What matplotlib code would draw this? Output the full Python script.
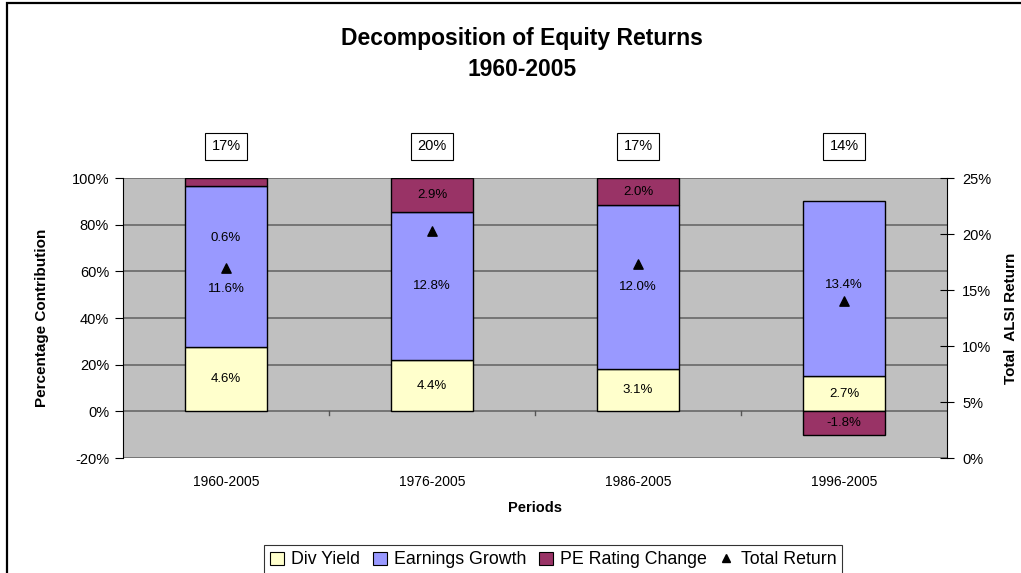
import matplotlib
matplotlib.use("Agg")
import matplotlib.pyplot as plt
import numpy as np
from matplotlib.patches import Rectangle
from matplotlib.lines import Line2D

plt.rcParams['font.family'] = ['Liberation Sans', 'DejaVu Sans']

periods = ["1960-2005", "1976-2005", "1986-2005", "1996-2005"]
div_yield = [4.6, 4.4, 3.1, 2.7]
earnings_growth = [11.6, 12.8, 12.0, 13.4]
pe_change = [0.6, 2.9, 2.0, -1.8]
total_return = [17.0, 20.3, 17.3, 14.0]
total_labels = ["17%", "20%", "17%", "14%"]

C_DIV = "#FFFFCC"
C_EG = "#9999FF"
C_PE = "#993366"

dv = np.array(div_yield)
eg = np.array(earnings_growth)
pe = np.array(pe_change)
denom = np.abs(dv) + np.abs(eg) + np.abs(pe)
s_dv = dv / denom * 100
s_eg = eg / denom * 100
s_pe = pe / denom * 100

W, H = 1021, 573
fig = plt.figure(figsize=(W / 100, H / 100), dpi=100)

# chart area border (right edge lies outside the image)
fig.add_artist(Rectangle((7 / W, -0.05), 1.1, (573 - 3) / H + 0.05,
                         transform=fig.transFigure, fill=False, lw=1.6, ec="black"))

ax_l, ax_r, ax_t, ax_b = 123, 947, 178, 458
ax = fig.add_axes([ax_l / W, 1 - ax_b / H, (ax_r - ax_l) / W, (ax_b - ax_t) / H])
ax.set_facecolor("#C0C0C0")
ax.set_xlim(-0.5, 3.5)
ax.set_ylim(-20, 100)
ax.set_yticks(np.arange(-20, 101, 20))
ax.set_yticklabels([f"{v}%" for v in range(-20, 101, 20)], fontsize=10.5)
ax.yaxis.grid(True, color="#606060", lw=1.1)
ax.set_axisbelow(True)
for s in ["top", "right", "bottom"]:
    ax.spines[s].set_visible(False)
ax.spines["left"].set_color("black")
ax.tick_params(axis="y", direction="out", length=6, pad=4)
ax.set_xticks(range(4))
ax.set_xticklabels(periods, fontsize=10)
ax.tick_params(axis="x", length=0, pad=12)

x = np.arange(4)
bw = 0.40
ax.bar(x, s_dv, bw, color=C_DIV, edgecolor="black", lw=1, zorder=3, label="Div Yield")
ax.bar(x, s_eg, bw, bottom=s_dv, color=C_EG, edgecolor="black", lw=1, zorder=3, label="Earnings Growth")
pe_bottom = np.where(s_pe >= 0, s_dv + s_eg, 0)
ax.bar(x, s_pe, bw, bottom=pe_bottom, color=C_PE, edgecolor="black", lw=1, zorder=3, label="PE Rating Change")

# small category separators on zero line
for xb in [0.5, 1.5, 2.5]:
    ax.plot([xb, xb], [0, -1.5], color="#555555", lw=1, zorder=2)

# data labels (first period's labels were moved in the original to avoid the marker)
eg_label_shift = [-9.5, 0, 0, 1.5]
for i in range(4):
    ax.text(x[i], s_dv[i] / 2, f"{div_yield[i]:.1f}%", ha="center", va="center", fontsize=9.5, zorder=5)
    eg_y = s_dv[i] + s_eg[i] / 2 + eg_label_shift[i]
    ax.text(x[i], eg_y, f"{earnings_growth[i]:.1f}%", ha="center", va="center", fontsize=9.5, zorder=5)
    if s_pe[i] >= 0:
        pe_y = s_dv[i] + s_eg[i] + s_pe[i] / 2
        if s_pe[i] < 6:
            pe_y = s_dv[i] + s_eg[i] - 22
    else:
        pe_y = s_pe[i] / 2
    ax.text(x[i], pe_y, f"{pe_change[i]:.1f}%", ha="center", va="center", fontsize=9.5, zorder=5)

# secondary axis
ax2 = ax.twinx()
ax2.set_ylim(0, 25)
ax2.set_yticks(np.arange(0, 26, 5))
ax2.set_yticklabels([f"{v}%" for v in range(0, 26, 5)], fontsize=10.5)
for s in ["top", "left", "bottom"]:
    ax2.spines[s].set_visible(False)
ax2.spines["right"].set_color("black")
ax2.tick_params(axis="y", direction="inout", length=10, pad=6)
ax2.scatter(x, total_return, marker="^", s=45, color="black", zorder=6, label="Total Return")

# boxed total labels
for i in range(4):
    ax.text(x[i], 113.5, total_labels[i], ha="center", va="center", fontsize=10.5,
            bbox=dict(boxstyle="square,pad=0.45", fc="white", ec="black", lw=0.8),
            clip_on=False)

ax.set_ylabel("Percentage Contribution", fontsize=11, fontweight="bold", labelpad=16)
ax2.set_ylabel("Total  ALSI Return", fontsize=11, fontweight="bold", labelpad=9)
ax.set_xlabel("Periods", fontsize=10.5, fontweight="bold", labelpad=9)

fig.text(522 / W, 1 - 38 / H, "Decomposition of Equity Returns", ha="center", va="center",
         fontsize=16.5, fontweight="bold")
fig.text(522 / W, 1 - 69 / H, "1960-2005", ha="center", va="center", fontsize=16.5, fontweight="bold")

handles = [Rectangle((0, 0), 1, 1, fc=C_DIV, ec="black", lw=0.8),
           Rectangle((0, 0), 1, 1, fc=C_EG, ec="black", lw=0.8),
           Rectangle((0, 0), 1, 1, fc=C_PE, ec="black", lw=0.8),
           Line2D([], [], ls="none", marker="^", color="black", markersize=6)]
leg = fig.legend(handles, ["Div Yield", "Earnings Growth", "PE Rating Change", "Total Return"],
                 loc="center", bbox_to_anchor=(553 / W, 1 - 560 / H), ncol=4, fontsize=12.8,
                 frameon=True, fancybox=False, edgecolor="black", handlelength=0.8,
                 handleheight=0.8, handletextpad=0.4, columnspacing=0.7, borderpad=0.35)
leg.get_frame().set_linewidth(0.8)

fig.savefig("out.png", dpi=100)
